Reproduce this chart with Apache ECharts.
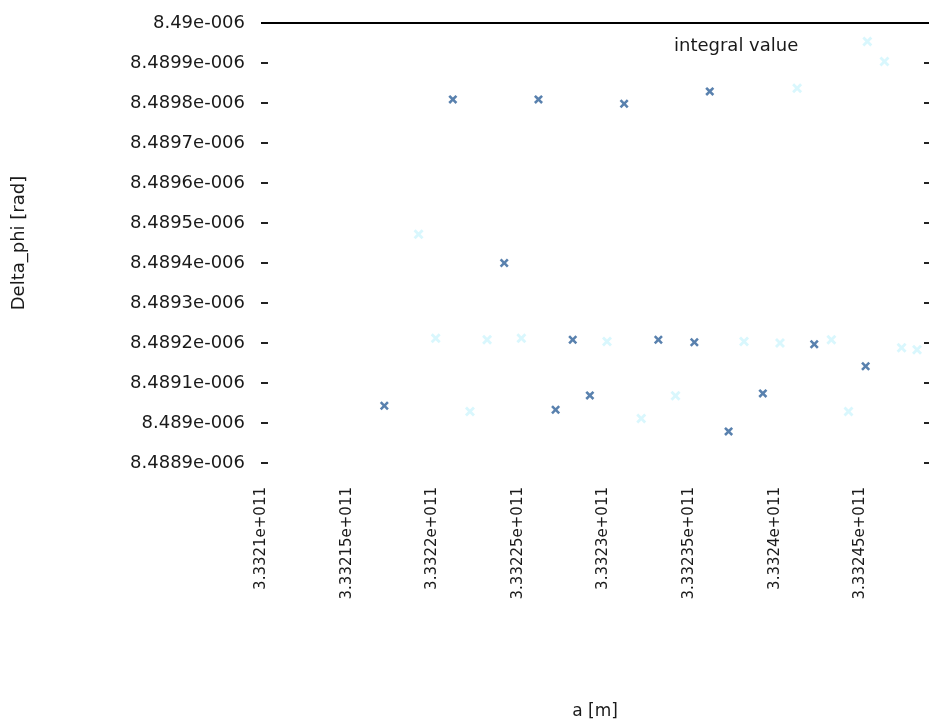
<!DOCTYPE html>
<html>
<head>
<meta charset="utf-8">
<title>Delta_phi vs a</title>
<script src="https://cdn.jsdelivr.net/npm/echarts@6/dist/echarts.min.js"></script>
<style>
  html, body { margin: 0; padding: 0; background: #fff; }
  #chart { width: 929px; height: 726px; }
</style>
</head>
<body>
<div id="chart"></div>
<script>
// axis ticks
const xTickLabels = ['3.3321e+011', '3.33215e+011', '3.3322e+011', '3.33225e+011',
  '3.3323e+011', '3.33235e+011', '3.3324e+011', '3.33245e+011']
const yTickLabels = ['8.4889e-006', '8.489e-006', '8.4891e-006', '8.4892e-006',
  '8.4893e-006', '8.4894e-006', '8.4895e-006', '8.4896e-006', '8.4897e-006',
  '8.4898e-006', '8.4899e-006', '8.49e-006']

// dark blue points
const darkA = [3.332172e11, 3.332212e11, 3.332242e11, 3.332262e11, 3.332272e11,
  3.332282e11, 3.332292e11, 3.332312e11, 3.332332e11, 3.332353e11, 3.332362e11,
  3.332373e11, 3.332393e11, 3.332423e11, 3.332453e11]
const darkPhi = [8.489043e-6, 8.489809e-6, 8.489400e-6, 8.489809e-6, 8.489033e-6,
  8.489208e-6, 8.489069e-6, 8.489798e-6, 8.489208e-6, 8.489202e-6, 8.489829e-6,
  8.488979e-6, 8.489074e-6, 8.489197e-6, 8.489142e-6]

// pale cyan points
const lightA = [3.332192e11, 3.332202e11, 3.332222e11, 3.332232e11, 3.332252e11,
  3.332302e11, 3.332322e11, 3.332342e11, 3.332382e11, 3.332403e11, 3.332413e11,
  3.332433e11, 3.332443e11, 3.332454e11, 3.332464e11, 3.332474e11, 3.332483e11]
const lightPhi = [8.489472e-6, 8.489212e-6, 8.489029e-6, 8.489208e-6, 8.489212e-6,
  8.489204e-6, 8.489011e-6, 8.489068e-6, 8.489204e-6, 8.489200e-6, 8.489837e-6,
  8.489208e-6, 8.489029e-6, 8.489954e-6, 8.489904e-6, 8.489188e-6, 8.489183e-6]

// integral value line
const integralA = [3.3321e11, 3.33249e11]
const integralPhi = [8.49e-6, 8.49e-6]

const X_MIN = 3.3321e11
const X_MAX = 3.33249e11
const X_STEP = 5e6
// phi is plotted in units of 1e-10 rad to keep the tick math exact
const Y_UNIT = 1e-10
const Y_MIN = 84889
const Y_MAX = 84900

const toY = v => v / Y_UNIT
const pairs = (xs, ys) => xs.map((x, i) => [x, toY(ys[i])])

const crossPath = 'path://M0,2L2,0L5,3L8,0L10,2L7,5L10,8L8,10L5,7L2,10L0,8L3,5Z'
const textColor = '#1a1a1a'
const font = 'DejaVu Sans'

const chart = echarts.init(document.getElementById('chart'))

const yTickFormatter = value => {
  const idx = Math.round(value - Y_MIN)
  return yTickLabels[idx] || ''
}
const xTickFormatter = value => {
  const idx = Math.round((value - X_MIN) / X_STEP)
  if (Math.abs(value - (X_MIN + idx * X_STEP)) > 1) return ''
  return xTickLabels[idx] || ''
}

chart.setOption({
  animation: false,
  backgroundColor: '#fff',
  textStyle: { fontFamily: font },
  grid: { left: 261, top: 23, width: 669, height: 440 },
  legend: {
    data: [{ name: 'integral value', icon: 'none' }],
    left: 664,
    top: 32,
    itemWidth: 0,
    textStyle: { fontSize: 18, color: textColor, fontFamily: font }
  },
  xAxis: [{
    type: 'value',
    min: X_MIN,
    max: X_MAX,
    interval: X_STEP,
    name: 'a [m]',
    nameLocation: 'middle',
    nameGap: 240,
    nameTextStyle: { fontSize: 17, color: textColor },
    axisLine: { show: false },
    axisTick: { show: false },
    splitLine: { show: false },
    axisLabel: {
      rotate: 90,
      margin: 24,
      fontSize: 15,
      color: textColor,
      formatter: xTickFormatter
    }
  }],
  yAxis: [{
    type: 'value',
    min: Y_MIN,
    max: Y_MAX,
    interval: 1,
    name: 'Delta_phi [rad]',
    nameLocation: 'middle',
    nameGap: 233,
    nameTextStyle: { fontSize: 18, color: textColor },
    axisLine: { show: false },
    axisTick: { show: true, inside: true, length: 7, lineStyle: { color: '#222', width: 2 } },
    splitLine: { show: false },
    axisLabel: { margin: 16, fontSize: 18, color: textColor, formatter: yTickFormatter }
  }, {
    type: 'value',
    position: 'right',
    min: Y_MIN,
    max: Y_MAX,
    interval: 1,
    axisLine: { show: false },
    axisTick: { show: true, inside: true, length: 5, lineStyle: { color: '#222', width: 2 } },
    splitLine: { show: false },
    axisLabel: { show: false }
  }],
  series: [
    {
      name: 'integral value',
      type: 'line',
      data: pairs(integralA, integralPhi),
      showSymbol: false,
      clip: false,
      lineStyle: { color: '#000', width: 2 },
      z: 3
    },
    {
      name: 'dark',
      type: 'scatter',
      data: pairs(darkA, darkPhi),
      symbol: crossPath,
      symbolSize: 9,
      itemStyle: { color: '#2f629a' },
      z: 4
    },
    {
      name: 'light',
      type: 'scatter',
      data: pairs(lightA, lightPhi),
      symbol: crossPath,
      symbolSize: 10,
      itemStyle: { color: '#d0f5fd' },
      z: 2
    }
  ]
})
</script>
</body>
</html>
